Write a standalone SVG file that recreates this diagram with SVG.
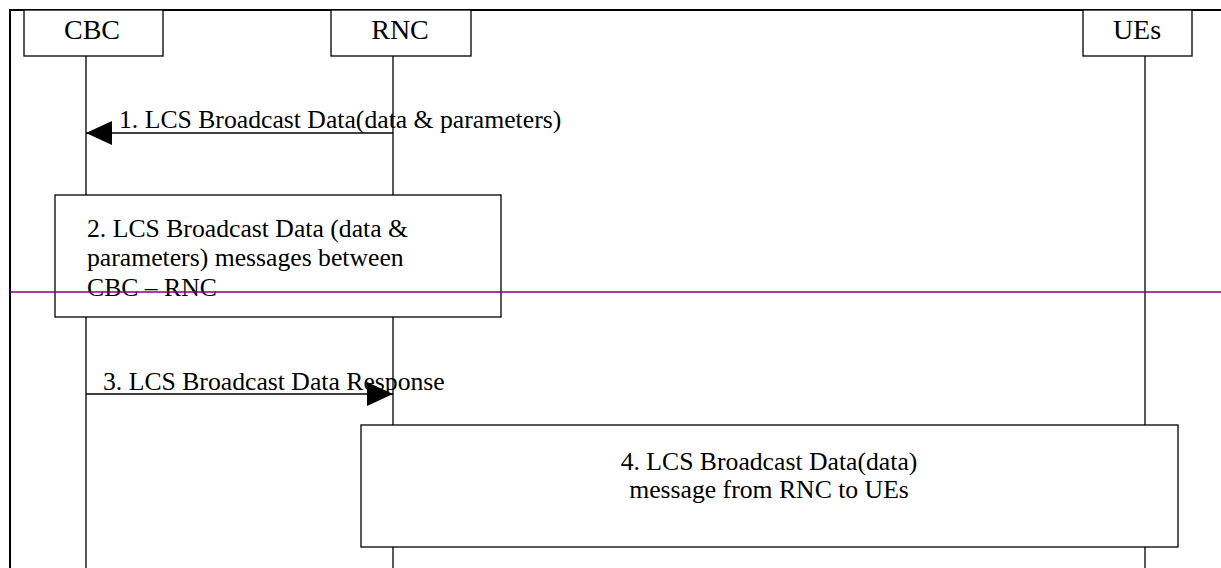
<svg xmlns="http://www.w3.org/2000/svg" width="1221" height="568" viewBox="0 0 1221 568">
<style>
.box{fill:#fff;stroke:#000;stroke-width:1.3}
.ll{stroke:#000;stroke-width:1.3}
.t{font-family:"Liberation Serif","Times New Roman",serif;font-size:25.7px;fill:#000}
.h{font-size:28px}
.c{text-anchor:middle}
</style>
<defs>
<marker id="ah" markerWidth="26" markerHeight="24" refX="26" refY="12" orient="auto" markerUnits="userSpaceOnUse">
<path d="M0,0 L26,12 L0,24 Z" fill="#000"/>
</marker>
</defs>
<rect width="1221" height="568" fill="#fff"/>
<path d="M10,568 V10 H1221" fill="none" stroke="#000" stroke-width="2"/>
<g id="lifelines">
<path class="ll" d="M86,56 V195 M86,317 V568 M393,56 V195 M393,317 V425 M393,547 V568 M1145,56 V425 M1145,547 V568"/>
</g>
<g id="CBC"><rect class="box" x="24" y="10" width="139" height="46"/><text class="t h c" x="92" y="39">CBC</text></g>
<g id="RNC"><rect class="box" x="331" y="10" width="140" height="46"/><text class="t h c" x="400" y="39">RNC</text></g>
<g id="UEs"><rect class="box" x="1083" y="10" width="109" height="46"/><text class="t h c" x="1137" y="39">UEs</text></g>
<g id="connectors">
<line x1="393" y1="133" x2="86" y2="133" stroke="#000" stroke-width="1.3" marker-end="url(#ah)"/>
<text class="t" x="119" y="128">1. LCS Broadcast Data(data &amp; parameters)</text>
<line x1="86" y1="394" x2="393" y2="394" stroke="#000" stroke-width="1.3" marker-end="url(#ah)"/>
<text class="t" x="103" y="390">3. LCS Broadcast Data Response</text>
</g>
<g id="step2"><rect class="box" x="55" y="195" width="446" height="122"/>
<text class="t" x="87" y="237">2. LCS Broadcast Data (data &amp;</text>
<text class="t" x="87" y="266">parameters) messages between</text>
<text class="t" x="87" y="296">CBC – RNC</text></g>
<g id="step4"><rect class="box" x="361" y="425" width="817" height="122"/>
<text class="t c" x="769" y="470">4. LCS Broadcast Data(data)</text>
<text class="t c" x="769" y="498">message from RNC to UEs</text></g>
<line x1="10" y1="292" x2="1221" y2="292" stroke="#800080" stroke-width="1.5"/>
</svg>
